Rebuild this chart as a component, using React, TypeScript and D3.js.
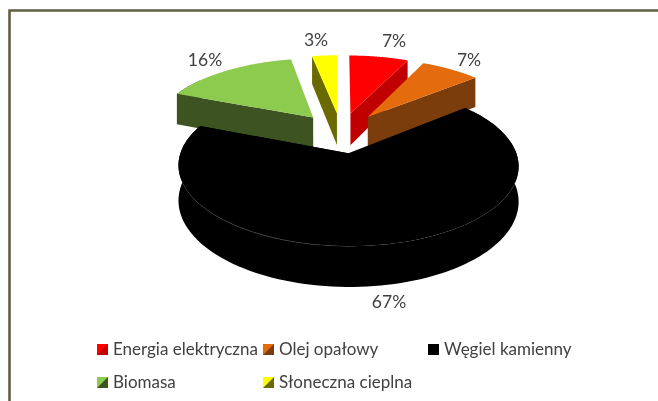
import React from 'react';
import * as d3 from 'd3';

const categories = ['Energia elektryczna', 'Olej opałowy', 'Węgiel kamienny', 'Biomasa', 'Słoneczna cieplna'];
const shares = [7, 7, 67, 16, 3];
const topColors = ['#ff0000', '#e46c0a', '#000000', '#8dcb50', '#ffff00'];
const wallColors = ['#c00000', '#7c3d08', '#000000', '#3d5321', '#6b6b00'];
const legendColumns = [0, 1, 2, 0, 1];
const legendRows = [0, 0, 0, 1, 1];

const width = 658;
const height = 401;

// pie plane -> screen, x/y are in units of the pie radius
const center = {x: 341, y: 132.5};
const radiusX = 161;
const radiusY = 72;
const perspective = 0.15;
const explode = 0.28;
const wall = 33;

const project = (x: number, y: number, z = 0) => {
  const s = 1 / (1 - perspective * y);
  return [center.x + radiusX * x * s, center.y + (radiusY * y + z * wall) * s] as [number, number];
};

const line = d3.line();

const App = () => {
  const arcs = d3.pie<number>().sort(null)(shares);

  const slices = arcs.map((a, i) => {
    const mid = (a.startAngle + a.endAngle) / 2;
    const ox = explode * Math.sin(mid);
    const oy = -explode * Math.cos(mid);
    const rim = (t: number, z = 0) => project(ox + Math.sin(t), oy - Math.cos(t), z);
    const apex = (z = 0) => project(ox, oy, z);
    const steps = d3.range(0, 121).map(k => a.startAngle + (a.endAngle - a.startAngle) * k / 120);
    const top = line([apex(), ...steps.map(t => rim(t))]) + 'Z';
    const edge = mid < Math.PI ? a.endAngle : a.startAngle;
    const radial = line([apex(), rim(edge), rim(edge, 1), apex(1)]) + 'Z';
    // go a bit past the sides so the wall closes up under the top face
    const front = steps.filter(t => Math.cos(t) < 0.6);
    const outer = front.length
      ? line([...front.map(t => rim(t)), ...front.slice().reverse().map(t => rim(t, 1))]) + 'Z'
      : null;
    const glow = d3.range(0, 41).map(k => rim(d3.interpolate(Math.PI * 0.97, Math.PI * 1.42)(k / 40)));
    return {i, mid, top, radial, outer, glow};
  });

  // far slices first, the big front one last
  const order = d3.sort(slices, s => -Math.cos(s.mid));

  const legendX = d3.scaleOrdinal<number, number>().domain([0, 1, 2]).range([97, 263, 428]);
  const legendY = d3.scaleOrdinal<number, number>().domain([0, 1]).range([349.5, 382.5]);

  const labelPos = [[394, 47], [469, 66], [389, 308], [205, 66], [316, 46]];

  return (
    <svg width={width} height={height} style={{position: 'absolute', left: 0, top: 0}}>
      <defs>
        <linearGradient id="glow" x1="0" x2="1" y1="0" y2="0">
          <stop offset="0" stopColor="#3a3a3a" stopOpacity={0} />
          <stop offset="0.5" stopColor="#3a3a3a" stopOpacity={1} />
          <stop offset="1" stopColor="#3a3a3a" stopOpacity={0} />
        </linearGradient>
        <filter id="soft" x="-2%" y="-2%" width="104%" height="104%">
          <feGaussianBlur stdDeviation="0.4" />
        </filter>
      </defs>
      <rect width={width} height={height} fill="#fff" />
      <g filter="url(#soft)">
        <path d={`M9.5,${height}V10.5H${width}`} fill="none" stroke="#625e42" strokeWidth={2.6} />

        {order.map(s => (
          <g key={s.i}>
            {s.outer && <path d={s.outer} fill={wallColors[s.i]} />}
            <path d={s.radial} fill={wallColors[s.i]} />
            <path d={s.top} fill={topColors[s.i]} />
          </g>
        ))}
        {slices.filter(s => shares[s.i] === d3.max(shares)).map(s => (
          <path key={s.i} d={line(s.glow) as string} fill="none" stroke="url(#glow)" strokeWidth={1} />
        ))}

        {slices.map(s => (
          <text key={s.i} x={labelPos[s.i][0]} y={labelPos[s.i][1]} textAnchor="middle"
            fontFamily="Lato" fontSize={17.5} fill="#404040">
            {shares[s.i]}%
          </text>
        ))}

        {categories.map((c, i) => {
          const x = legendX(legendColumns[i]);
          const y = legendY(legendRows[i]);
          const size = 11;
          return (
            <g key={c}>
              <rect x={x} y={y - size / 2} width={size} height={size} fill={topColors[i]} />
              <path d={`M${x + size},${y - size / 2}L${x + size},${y + size / 2}L${x},${y + size / 2}Z`} fill={wallColors[i]} />
              <text x={x + 16} y={y + 5.5} fontFamily="Lato" fontSize={17} fill="#404040">{c}</text>
            </g>
          );
        })}
      </g>
    </svg>
  );
};

export default App;
